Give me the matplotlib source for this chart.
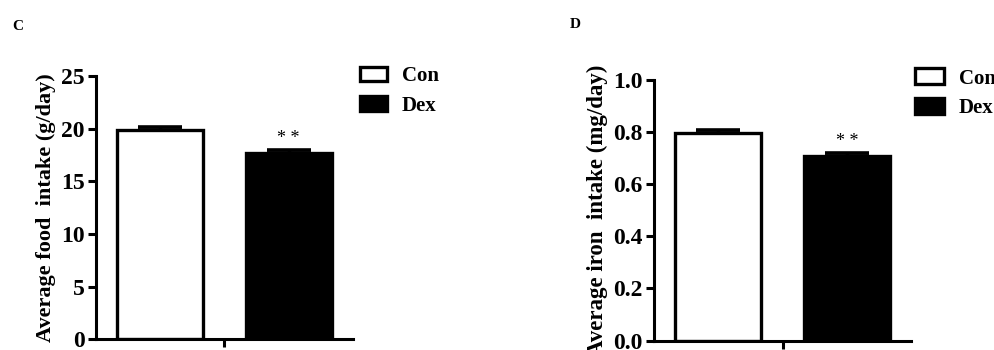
import numpy as np
import matplotlib
matplotlib.use('Agg')
import matplotlib.pyplot as plt
from matplotlib.patches import Patch

plt.rcParams.update({
    "font.family": ['Liberation Serif', 'DejaVu Serif'],
    "font.weight": 'bold',
    "axes.linewidth": 2.2,
})

groups = ['Con', 'Dex']
food_mean = [19.9, 17.7]
food_err = [0.25, 0.3]
iron_mean = [0.797, 0.708]
iron_err = [0.01, 0.014]
food_ticks = [0, 5, 10, 15, 20, 25]
iron_ticks = [0.0, 0.2, 0.4, 0.6, 0.8, 1.0]
iron_ticklabels = ['0.0', '0.2', '0.4', '0.6', '0.8', '1.0']


def draw_panel(ax, means, errs, ylim, ticks, ticklabels, ylabel, labelsize):
    x = np.arange(len(groups))
    colors = ['white', 'black']
    ax.bar(x, means, width=0.67, color=colors, edgecolor='black', linewidth=2.4, zorder=2)
    ax.errorbar(x, means, yerr=[[0, 0], errs], fmt='none', ecolor='black',
                elinewidth=2.4, capsize=16, capthick=2.6, zorder=1)
    ax.annotate('* *', (1, means[1] + errs[1]), xytext=(0, 2), textcoords='offset points',
                ha='center', va='bottom', fontsize=13, fontweight='normal')
    ax.set_xlim(-0.5, 1.5)
    ax.set_ylim(*ylim)
    ax.set_xticks([0.5])
    ax.set_xticklabels([''])
    ax.set_yticks(ticks)
    ax.set_yticklabels(ticklabels, fontsize=17, fontweight='bold')
    ax.tick_params(axis='both', direction='out', length=6, width=2.2, pad=2)
    ax.set_ylabel(ylabel, fontsize=labelsize, fontweight='bold', labelpad=4)
    ax.spines['top'].set_visible(False)
    ax.spines['right'].set_visible(False)


fig = plt.figure(figsize=(9.95, 3.5), dpi=100)
ax1 = fig.add_axes([0.0965, 0.031, 0.258, 0.752])
ax2 = fig.add_axes([0.657, 0.027, 0.259, 0.744])

draw_panel(ax1, food_mean, food_err, (0, 25), food_ticks, [str(t) for t in food_ticks],
           'Average food  intake (g/day)', 16)
draw_panel(ax2, iron_mean, iron_err, (0, 1.0), iron_ticks, iron_ticklabels,
           'Average iron  intake (mg/day)', 16.5)

handles = [Patch(facecolor='white', edgecolor='black', linewidth=2.4),
           Patch(facecolor='black', edgecolor='black', linewidth=2.4)]
fig.legend(handles, groups, loc='upper left', bbox_to_anchor=(352 / 995, 1 - 58 / 350),
           frameon=False, fontsize=15, handlelength=1.3, handleheight=0.7,
           handletextpad=0.7, labelspacing=0.45, borderaxespad=0)
fig.legend(handles, groups, loc='upper left', bbox_to_anchor=(907 / 995, 1 - 60 / 350),
           frameon=False, fontsize=15, handlelength=1.4, handleheight=0.8,
           handletextpad=0.7, labelspacing=0.45, borderaxespad=0)

fig.text(12 / 995, 1 - 27 / 350, 'C', fontsize=11, fontweight='bold', va='center')
fig.text(570 / 995, 1 - 25 / 350, 'D', fontsize=11, fontweight='bold', va='center')

fig.savefig('out.png', dpi=100)
